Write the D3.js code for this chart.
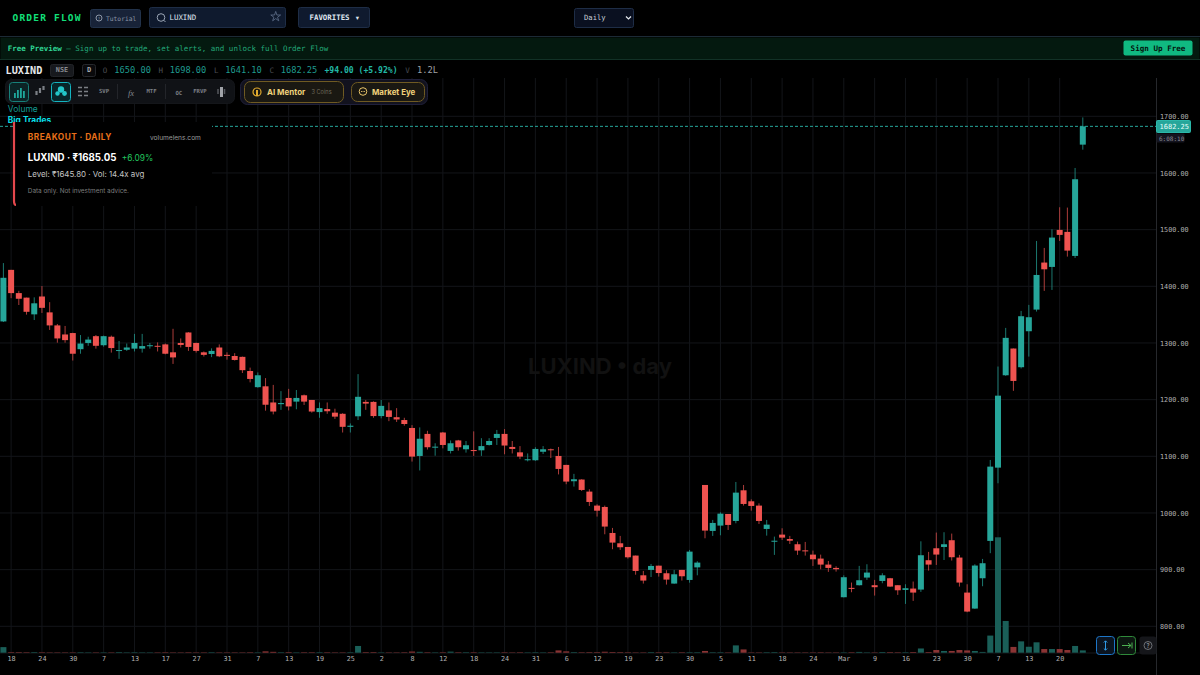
<!DOCTYPE html>
<html>
<head>
<meta charset="utf-8">
<title>LUXIND Order Flow</title>
<script src="https://cdn.jsdelivr.net/npm/d3@7"></script>
<style>
  html, body { margin: 0; padding: 0; background: #000; overflow: hidden; }
  svg { display: block; }
  text { white-space: pre; }
</style>
</head>
<body>
<div id="chart"></div>
<script>
// candles, oldest first
const opens = [
  1338,1429,1388,1380,1350.5,1382,1354,1331,1315,1317.5,
  1289,1300,1312,1296,1311,1286.5,1288,1290,1290,1295,
  1295,1297.5,1283.5,1300,1318.5,1300,1283.5,1280.5,1292,1279,
  1277,1275.5,1250.5,1222,1223.5,1195,1192,1203,1196.5,1207.7,
  1199.4,1178,1183.5,1177,1175,1152,1170.6,1196,1196,1171,
  1181,1169,1164,1150,1100.6,1139.5,1116,1142,1109.5,1128,
  1112.4,1111,1110.6,1120,1132.4,1139.5,1116.5,1107,1093,1093,
  1108,1112.4,1100.6,1084.8,1056,1059,1037.7,1013,1010.6,964.7,
  946.5,940,924.8,890,899.5,907,893.6,875.4,899.5,881.8,
  904,1049.4,968.3,977.7,998.2,985.9,1040,1020.6,1013,971.8,
  950,961.8,954,944.8,934,926.5,919.5,908.9,903,851.3,
  867.8,872.5,886,872.5,880,884.8,872.5,864.2,866.6,864.8,
  916.6,937.7,940,951.9,921.3,859.5,831.3,884.8,950.7,1080,
  1243,1290.2,1257.2,1320.7,1358.9,1441.9,1434.2,1499.5,1496,1453.6,
  1650
];
const highs = [
  1441,1429,1392,1380,1380.5,1400.5,1372,1333.5,1330,1318,
  1314,1311,1314,1313,1313,1303.5,1299,1316,1316,1300,
  1301,1299,1325,1308,1319,1300.5,1285,1290.5,1297.5,1283.5,
  1282,1276,1256.5,1248,1238,1226,1215,1219,1217,1209,
  1199.4,1195,1195,1184,1176,1158,1245,1199.4,1197,1199.4,
  1195,1185,1168,1155,1151,1145,1123,1143,1128,1129,
  1127,1144,1132,1132,1146.5,1148,1127,1118,1105,1116,
  1118,1113.6,1116.5,1085,1069,1059.5,1041.8,1015.3,1013,973.6,
  959.5,940,924.8,897.7,910,907,899,899.5,899.5,934.8,
  914.8,1049.4,987.7,1001.2,998.2,1054.7,1049.4,1024,1017,987.7,
  958.3,973,959.5,949.5,948.9,933.6,926.5,915.3,905.9,890,
  877.2,906.6,909.5,881.9,893.6,885.4,872.5,874.2,879,950,
  931.3,965.4,966,963.6,926,874.2,909.5,918.9,1093.5,1258.4,
  1326.6,1290.2,1356.6,1367.2,1480,1467.7,1500.6,1539.5,1538.9,1608.8,
  1698
];
const lows = [
  1337,1379,1367,1350,1340.5,1353,1323,1300.5,1300.5,1269,
  1281,1295,1290,1293.5,1283,1272,1286,1285,1283,1290,
  1285,1280,1263,1292,1286,1283,1276,1275,1275,1270.5,
  1269,1247,1230.5,1221,1180.5,1174,1182,1181,1183,1190.6,
  1177,1168,1175,1166,1142,1142,1164,1182,1168,1167,
  1162,1160.6,1154,1090.7,1075,1112,1101,1114,1105,1110,
  1106.5,1100.7,1100.7,1119,1120,1103.6,1105,1095,1091,1092,
  1104,1097,1068,1050.7,1046.6,1038.8,1012.4,993.6,962.4,936,
  934.8,919.5,891,875.4,887,887.7,873.6,875,880.7,877,
  890,955.3,959.5,960.6,970,981.8,1013,1004.1,980.6,960,
  926,952.4,945.3,926,924.8,906.5,900.6,896,896.5,851,
  860.1,872,881.9,854.2,876,869.5,855.4,839.5,844.8,860.7,
  898.3,908.3,917,916,870.1,824.8,830.7,870.7,929,1052.4,
  1242,1215.5,1255,1276,1355.4,1391.9,1393.6,1480,1452.4,1450,
  1641.1
];
const closes = [
  1415,1388,1378,1355,1370,1362,1331,1308,1305,1281,
  1299,1306,1295,1312,1291,1287.5,1292,1300,1294.5,1296,
  1293.5,1281,1274.5,1296.5,1293,1286,1279,1286,1276.5,1277.5,
  1270,1252,1236.5,1243,1191,1179,1194,1188,1203,1196.5,
  1179,1185,1179.5,1170,1152,1154,1205,1193,1171,1189,
  1169.5,1165,1157,1099.5,1131,1116,1117,1120,1123,1116,
  1119.5,1110,1118,1127,1139.5,1119,1113,1099.5,1094.8,1113,
  1112.4,1111,1077.7,1055.4,1059.5,1040.6,1019.4,1004,976,947.7,
  939.5,921.8,897.7,880.7,906.5,894,882.4,891.8,888.3,931.8,
  912.4,968.9,982.4,998.8,978.9,1035.9,1015.9,1012.4,985.9,979.4,
  951,956.5,951,933.6,933,918.3,908.9,903,900.7,886.6,
  866.6,881.3,894.8,869,890,870.1,863.6,867.2,859.5,925.4,
  908.9,926.6,944.8,921.9,877.2,826,907.2,911.3,1081.8,1207,
  1309,1233,1347.2,1345.4,1420,1430,1486,1490.7,1463,1588.9,
  1682.25
];
// volume in lakh
const volumes = [
  2.9,.3,.3,.25,.3,.25,.2,.2,.2,.2,
  .25,.2,.2,.2,.2,.3,.2,.25,.2,.2,
  .2,.25,.2,.2,.25,.2,.2,.25,.2,.2,
  .2,.2,.25,.2,.7,.45,.25,.3,.2,.25,
  .25,.25,.25,.2,.2,.25,3.5,.3,.3,.2,
  .2,.2,.25,.6,.45,.25,.2,.25,.55,.25,
  .25,.25,.2,.2,.2,.25,.2,.25,.2,.25,
  .2,.25,1.2,.7,.3,.25,.3,.3,.5,.35,
  .3,.25,.2,.2,.3,.25,.25,.2,.25,.25,
  .25,.9,.25,.25,.2,3.8,1.7,.2,.2,.25,
  .3,.2,.2,.2,.2,.2,.25,.2,.2,.2,
  .25,.4,.2,.2,.35,.3,.25,.25,.35,2.2,
  .35,1.4,.9,.9,1.4,1.2,.9,.4,8.9,60,
  16.5,3,5.9,3.1,5.4,1.9,1.9,1.9,1.4,3.5,
  1.2
];
const priceTicks = [800, 900, 1000, 1100, 1200, 1300, 1400, 1500, 1600, 1700];
const dateLabels = ["18","24","30","7","13","17","27","31","7","13","19","25","2","8","12","18","24","31",
  "6","12","19","23","30","5","11","18","24","Mar","9","16","23","30","7","13","20"];
const labelEvery = 4;

const w = 1200;
const h = 675;
const plotRight = 1156.5;
const plotTop = 78;
const plotBottom = 652.7;
const bodyWidth = 6;

const green = "#26a69a";
const red = "#ef5350";
const gridColor = "#131519";
const mono = "'DejaVu Sans Mono', monospace";
const sans = "Inter, 'Liberation Sans', sans-serif";

const count = closes.length;
const xScale = d3.scaleLinear().domain([0, count - 1]).range([3.4, 1082.8]);
const yScale = d3.scaleLinear().domain([800, 1700]).range([626.3, 116.3]);
const volScale = d3.scaleLinear().domain([0, 60]).range([plotBottom, 537.3]);
const candles = d3.range(count).map(i => ({
  i: i, open: opens[i], high: highs[i], low: lows[i], close: closes[i], vol: volumes[i]
}));
const colorOf = d => d.close >= d.open ? green : red;

const svg = d3.select("#chart").append("svg")
  .attr("width", w)
  .attr("height", h)
  .style("background", "#000");

// small helpers for the page furniture
function box(parent, x, y, bw, bh, fill, stroke, r) {
  return parent.append("rect").attr("x", x + .5).attr("y", y + .5).attr("width", bw - 1).attr("height", bh - 1)
    .attr("rx", r === undefined ? 2 : r).attr("fill", fill).attr("stroke", stroke || "none");
}
function label(parent, x, y, str, size, color, font, weight, anchor) {
  return parent.append("text").attr("x", x).attr("y", y).attr("dominant-baseline", "central")
    .attr("font-family", font || mono).attr("font-size", size).attr("fill", color)
    .attr("font-weight", weight || "normal").attr("text-anchor", anchor || "start").text(str);
}

// grid + axes
const tickIndex = dateLabels.map((d, i) => 1 + i * labelEvery);
const xAxis = d3.axisBottom(xScale)
  .tickValues(tickIndex)
  .tickFormat((d, i) => dateLabels[i])
  .tickSize(0)
  .tickPadding(0);
const yAxis = d3.axisRight(yScale)
  .tickValues(priceTicks)
  .tickFormat(d3.format(".2f"))
  .tickSize(0)
  .tickPadding(0);

const gridG = svg.append("g");
gridG.selectAll("line.vgrid").data(tickIndex).enter().append("line")
  .attr("class", "vgrid")
  .attr("x1", d => xScale(d)).attr("x2", d => xScale(d))
  .attr("y1", plotTop).attr("y2", plotBottom)
  .attr("stroke", gridColor);
gridG.selectAll("line.hgrid").data(priceTicks).enter().append("line")
  .attr("class", "hgrid")
  .attr("x1", 0).attr("x2", plotRight)
  .attr("y1", d => yScale(d)).attr("y2", d => yScale(d))
  .attr("stroke", gridColor);

const xG = svg.append("g").attr("transform", "translate(0," + 654 + ")").call(xAxis);
xG.select(".domain").remove();
xG.selectAll("text").attr("fill", "#b0b0b0").attr("font-family", mono).attr("font-size", 6.8).attr("dy", "0.35em").attr("y", 4.5);

const yG = svg.append("g").attr("transform", "translate(" + 1160 + ",0)").call(yAxis);
yG.select(".domain").remove();
yG.selectAll("text").attr("fill", "#b0b0b0").attr("font-family", mono).attr("font-size", 6.8);

svg.append("line").attr("x1", plotRight).attr("x2", plotRight).attr("y1", plotTop).attr("y2", h).attr("stroke", "#26282c");
svg.append("line").attr("x1", 0).attr("x2", plotRight).attr("y1", plotBottom + .3).attr("y2", plotBottom + .3).attr("stroke", "#17191d");

// watermark
label(svg, 600, 366, "LUXIND • day", 22, "#111111", sans, "bold", "middle");

// volume bars
svg.append("g").selectAll("rect").data(candles).enter().append("rect")
  .attr("x", d => xScale(d.i) - bodyWidth / 2)
  .attr("y", d => volScale(d.vol))
  .attr("width", bodyWidth)
  .attr("height", d => plotBottom - volScale(d.vol))
  .attr("fill", d => d.close >= d.open ? "#1a5f58" : "#8a3434");

// last price line
svg.append("line").attr("x1", 0).attr("x2", plotRight)
  .attr("y1", yScale(closes[count - 1])).attr("y2", yScale(closes[count - 1]))
  .attr("stroke", green).attr("stroke-dasharray", "3 2").attr("stroke-width", 1);

// candles
const candleG = svg.append("g");
candleG.selectAll("line").data(candles).enter().append("line")
  .attr("x1", d => xScale(d.i)).attr("x2", d => xScale(d.i))
  .attr("y1", d => yScale(d.high)).attr("y2", d => yScale(d.low))
  .attr("stroke", colorOf).attr("stroke-opacity", .72).attr("stroke-width", 1);
candleG.selectAll("rect").data(candles).enter().append("rect")
  .attr("x", d => xScale(d.i) - bodyWidth / 2)
  .attr("y", d => yScale(Math.max(d.open, d.close)))
  .attr("width", bodyWidth)
  .attr("height", d => Math.max(1, Math.abs(yScale(d.open) - yScale(d.close))))
  .attr("fill", colorOf);

// price tag + countdown
box(svg, 1156, 120, 35, 13, green, "#2bb8aa", 1);
label(svg, 1159.5, 126.6, "1682.25", 7, "#e8fffb");
box(svg, 1156, 133, 29, 10, "#14141f", "none", 1);
label(svg, 1159, 138, "6:08:10", 6, "#8a8a94");

// top bar
box(svg, 0, 0, w, 37, "#000");
svg.append("line").attr("x1", 0).attr("x2", w).attr("y1", 36.5).attr("y2", 36.5).attr("stroke", "#1c2a36");
label(svg, 12.5, 17.5, "ORDER FLOW", 9.5, "#12e07a", mono, "bold").attr("letter-spacing", 1.2);
box(svg, 90, 9, 51, 19, "#182338", "#22324a");
svg.append("circle").attr("cx", 99).attr("cy", 18).attr("r", 3).attr("fill", "none").attr("stroke", "#8b95a5");
label(svg, 99, 18, "?", 4, "#8b95a5", sans, "normal", "middle");
label(svg, 106, 18, "Tutorial", 6.3, "#8b95a5");
box(svg, 149, 7, 137, 21, "#0f1a2e", "#1e2d46");
svg.append("circle").attr("cx", 161).attr("cy", 17.5).attr("r", 3.8).attr("fill", "none").attr("stroke", "#9aa5b5");
svg.append("line").attr("x1", 163.7).attr("y1", 20.2).attr("x2", 165.5).attr("y2", 22).attr("stroke", "#9aa5b5");
label(svg, 169.5, 17.5, "LUXIND", 7.4, "#dfe5ee");
svg.append("path").attr("transform", "translate(275.7,16.6)")
  .attr("d", d3.symbol(d3.symbolStar, 30)())
  .attr("fill", "none").attr("stroke", "#5a6a85").attr("stroke-width", .9);
box(svg, 298, 7, 72, 21, "#0f1a2e", "#1e2d46");
label(svg, 309.5, 17.5, "FAVORITES", 7.4, "#dfe5ee", mono, "bold");
label(svg, 357.5, 17.5, "▾", 6.5, "#dfe5ee", "'DejaVu Sans'", "normal", "middle");
box(svg, 574, 8, 60, 20, "#0a1020", "#1e2d46");
label(svg, 584, 17.5, "Daily", 7.2, "#c9d0da");
svg.append("path").attr("d", "M626 16.5 l2.5 2.5 l2.5 -2.5").attr("fill", "none").attr("stroke", "#e6e9ee").attr("stroke-width", 1.2);

// free preview banner
box(svg, 0, 37, w, 23, "#04190f", "none", 0);
svg.append("line").attr("x1", 0).attr("x2", w).attr("y1", 59.5).attr("y2", 59.5).attr("stroke", "#123126");
label(svg, 7.7, 48, "Free Preview", 7.5, "#2fd694", mono, "bold");
label(svg, 61.8, 48, " — Sign up to trade, set alerts, and unlock full Order Flow", 7.5, "#23a878");
box(svg, 1123, 40, 70, 16, "#10b981", "none", 2);
label(svg, 1158, 48, "Sign Up Free", 7.6, "#04130d", mono, "bold", "middle");

// symbol row
const teal = "#1f9a8e";
const dim = "#4a4d52";
label(svg, 5.5, 70, "LUXIND", 10.2, "#e6e8ea", mono, "bold");
box(svg, 50, 64, 24, 13, "#17191d", "#222428");
label(svg, 62, 70.3, "NSE", 6.8, "#8a8d92", mono, "bold", "middle");
box(svg, 82, 64, 14, 13, "#0a0a0c", "#26282c");
label(svg, 89, 70, "D", 7, "#a5a8ac", mono, "bold", "middle");
label(svg, 102.8, 70.3, "O", 7.5, dim);
label(svg, 114.3, 70, "1650.00", 8.7, teal);
label(svg, 158.4, 70.3, "H", 7.5, dim);
label(svg, 169.7, 70, "1698.00", 8.7, teal);
label(svg, 214, 70.3, "L", 7.5, dim);
label(svg, 225.2, 70, "1641.10", 8.7, teal);
label(svg, 269.6, 70.3, "C", 7.5, dim);
label(svg, 280.7, 70, "1682.25", 8.7, teal);
label(svg, 324.5, 70, "+94.00 (+5.92%)", 8.1, "#22b8a6", mono, "bold");
label(svg, 405.3, 70.3, "V", 7.5, dim);
label(svg, 417, 70, "1.2L", 8.7, "#a0a3a7");

// indicator toolbar
const tools = svg.append("g");
box(tools, 5, 79, 230, 25, "#101216", "#14161a", 6);
box(tools, 9, 82, 20, 20, "#0c2426", "#17807a", 3);
[[14, 93, 5], [17, 90, 8], [20, 88, 10], [23, 91, 7]].forEach(a => {
  tools.append("rect").attr("x", a[0]).attr("y", a[1]).attr("width", 1.8).attr("height", a[2]).attr("fill", "#1fa79b");
});
tools.append("path").attr("d", "M36.5 95 v-4 M40 93 v-5 M43.5 90 v-4").attr("stroke", "#7b7f85").attr("stroke-width", 2.2);
box(tools, 51, 82, 20, 20, "#08262a", "#14b4c0", 3);
tools.append("circle").attr("cx", 61).attr("cy", 89.5).attr("r", 3.2).attr("fill", "#23c6c8");
tools.append("circle").attr("cx", 57.5).attr("cy", 93.5).attr("r", 2.2).attr("fill", "#23c6c8");
tools.append("circle").attr("cx", 64.5).attr("cy", 93.5).attr("r", 2.4).attr("fill", "#23c6c8");
tools.append("path").attr("d", "M78 87.5 h4 M78 91.5 h4 M78 95.5 h4 M84 87.5 h4 M84 91.5 h4 M84 95.5 h4")
  .attr("stroke", "#7b7f85").attr("stroke-width", 1.3);
label(tools, 104, 91, "SVP", 5.6, "#7b7f85", mono, "bold", "middle");
tools.append("line").attr("x1", 117.5).attr("x2", 117.5).attr("y1", 84).attr("y2", 99).attr("stroke", "#23252a");
label(tools, 131, 92.5, "fx", 8.5, "#85898f", "'Liberation Serif', serif", "normal", "middle").attr("font-style", "italic");
label(tools, 151.5, 91, "MTF", 5.6, "#7b7f85", mono, "bold", "middle");
tools.append("line").attr("x1", 165.5).attr("x2", 165.5).attr("y1", 84).attr("y2", 99).attr("stroke", "#23252a");
label(tools, 178.8, 92.5, "OC", 5.6, "#7b7f85", mono, "bold", "middle");
label(tools, 200, 91, "FRVP", 5.6, "#7b7f85", mono, "bold", "middle");
tools.append("path").attr("d", "M218 89 v5 M224.5 89 v5").attr("stroke", "#55585e").attr("stroke-width", 1.5);
tools.append("rect").attr("x", 220).attr("y", 87).attr("width", 3).attr("height", 10).attr("fill", "#a0a3a8");

// AI buttons
const aiG = svg.append("g");
box(aiG, 240, 79, 188, 26, "#12121e", "#20203a", 7);
box(aiG, 244, 81, 100, 22, "#1a1812", "#6f5a22", 6);
aiG.append("circle").attr("cx", 257).attr("cy", 92).attr("r", 4).attr("fill", "none").attr("stroke", "#e0a92e").attr("stroke-width", 1.2);
aiG.append("path").attr("d", "M257 90 v6").attr("stroke", "#e0a92e").attr("stroke-width", 2);
label(aiG, 267, 91.5, "AI Mentor", 8, "#f0d27c", sans, "bold");
label(aiG, 311.5, 92, "3 Coins", 5.6, "#6f6a5a", sans);
box(aiG, 351, 82, 74, 20, "#1a1812", "#6f5a22", 6);
aiG.append("circle").attr("cx", 363).attr("cy", 91.5).attr("r", 3.8).attr("fill", "none").attr("stroke", "#e8c46a");
aiG.append("path").attr("d", "M361 91.5 h4").attr("stroke", "#e8c46a").attr("stroke-dasharray", ".9 .7");
label(aiG, 372, 91.5, "Market Eye", 7.9, "#f0d27c", sans, "bold");

// overlay labels + breakout card
label(svg, 7.8, 109, "Volume", 8.5, "#149a92", sans);
label(svg, 7.8, 120, "Big Trades", 8.4, "#08dfe6", sans, "bold");
const card = svg.append("g");
card.append("rect").attr("x", 13).attr("y", 122).attr("width", 199).attr("height", 84).attr("fill", "#000");
card.append("path").attr("d", "M14 122 v79 q0 4 2 4").attr("fill", "none").attr("stroke", "#e5484d").attr("stroke-width", 2.2);
label(card, 27.8, 137, "BREAKOUT · DAILY", 8.3, "#e8701a", sans, "bold").attr("letter-spacing", .45);
label(card, 150, 137.5, "volumelens.com", 6.6, "#9a9a9a", sans);
label(card, 27.8, 157, "LUXIND · ₹1685.05", 9.7, "#ffffff", sans, "bold");
label(card, 121.8, 157.5, "+6.09%", 8.4, "#22c55e", sans);
label(card, 27.8, 173.5, "Level: ₹1645.80 · Vol: 14.4x avg", 7.9, "#c4c4c4", sans);
label(card, 27.8, 190.5, "Data only. Not investment advice.", 6.4, "#7c7c7c", sans);

// corner buttons
box(svg, 1096, 636, 19, 19, "#0b1420", "#1d76c8", 3);
svg.append("path").attr("d", "M1105.5 641 v9 M1103.8 642.5 l1.7 -1.7 l1.7 1.7 M1103.8 648.5 l1.7 1.7 l1.7 -1.7")
  .attr("fill", "none").attr("stroke", "#2f9be8").attr("stroke-width", 1);
box(svg, 1117, 636, 19, 19, "#0c1610", "#2f8a3a", 3);
svg.append("path").attr("d", "M1122 645.5 h9 M1128 643 l3 2.5 l-3 2.5 M1132 642.5 v6")
  .attr("fill", "none").attr("stroke", "#4caf50").attr("stroke-width", 1);
box(svg, 1139, 636, 18, 19, "#15161a", "none", 3);
svg.append("circle").attr("cx", 1148).attr("cy", 645.5).attr("r", 4).attr("fill", "none").attr("stroke", "#6f7277");
label(svg, 1148, 645.7, "?", 5.5, "#84878c", sans, "bold", "middle");
</script>
</body>
</html>
